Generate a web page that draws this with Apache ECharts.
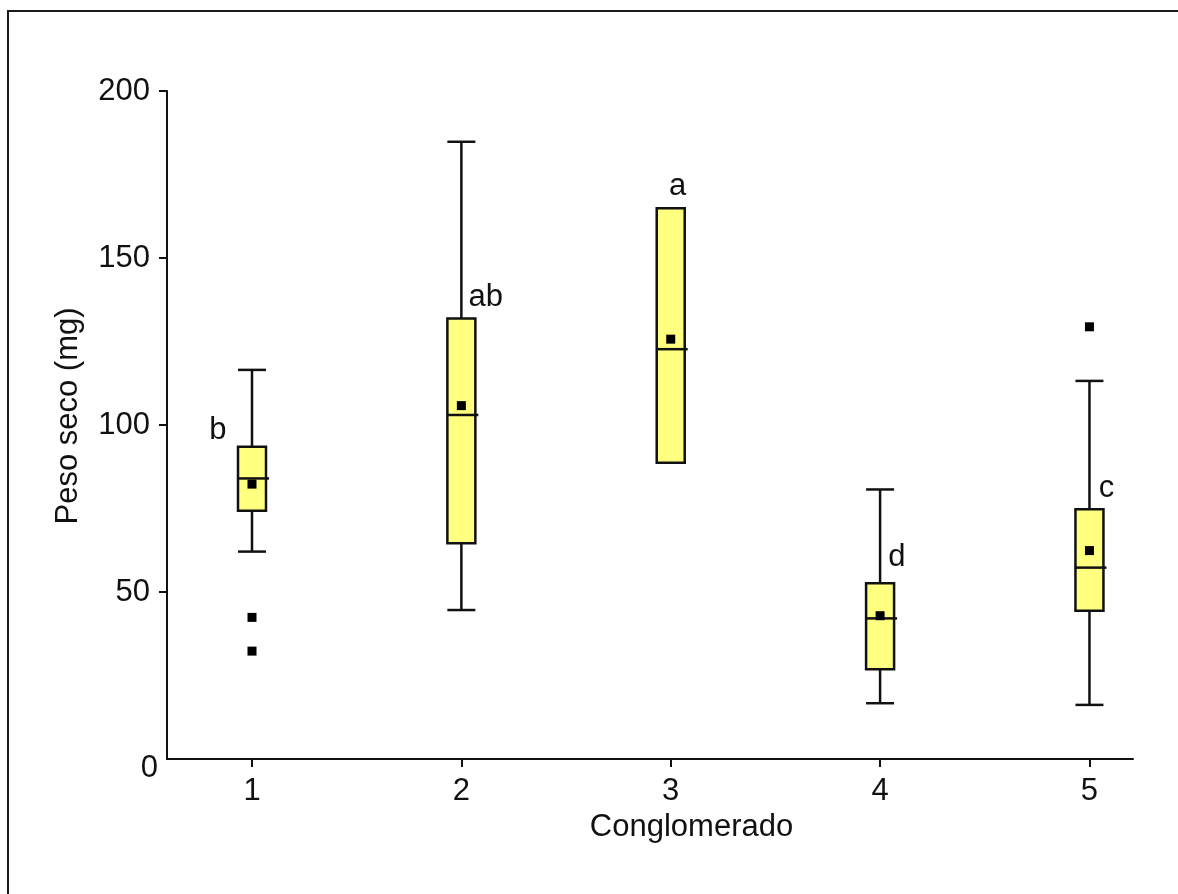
<!DOCTYPE html>
<html>
<head>
<meta charset="utf-8">
<script src="https://cdn.jsdelivr.net/npm/echarts@6/dist/echarts.min.js"></script>
<style>
html,body{margin:0;padding:0;background:#fff;}
#chart{width:1178px;height:894px;}
</style>
</head>
<body>
<div id="chart"></div>
<script>
// ---- data ----
const categories = [1, 2, 3, 4, 5];
const whiskerLow  = [62.1, 44.6, 88.7, 16.7, 16.2];
const q1          = [74.3, 64.6, 88.7, 26.9, 44.4];
const medians     = [84.0, 103.0, 122.7, 42.1, 57.3];
const q3          = [93.5, 131.9, 164.9, 52.6, 74.8];
const whiskerHigh = [116.5, 184.8, 164.9, 80.7, 113.2];
const means       = [82.3, 105.8, 125.7, 42.9, 62.4];
const outlierCat  = [1, 1, 5];
const outlierVal  = [42.4, 32.3, 129.4];
const letters     = ['b', 'ab', 'a', 'd', 'c'];
const letterX     = [0.837, 2.116, 3.033, 4.08, 5.081];
const letterY     = [98.5, 138.3, 171.3, 60.2, 81.1];
const yTicks      = [0, 50, 100, 150, 200];

const FONT = "'Liberation Sans', Arial, sans-serif";
const INK = '#111';
const FS = 31;

const boxData = categories.map((c, i) => [c, whiskerLow[i], q1[i], medians[i], q3[i], whiskerHigh[i]]);
const meanData = categories.map((c, i) => [c, means[i]]);
const outlierData = outlierCat.map((c, i) => [c, outlierVal[i]]);
const letterData = letters.map((t, i) => ({ value: [letterX[i], letterY[i]], label: { formatter: t } }));

const chart = echarts.init(document.getElementById('chart'), null, { renderer: 'canvas' });

function renderBox(params, api) {
  const x = api.value(0);
  const lo = api.coord([x, api.value(1)]);
  const b1 = api.coord([x, api.value(2)]);
  const md = api.coord([x, api.value(3)]);
  const b3 = api.coord([x, api.value(4)]);
  const hi = api.coord([x, api.value(5)]);
  const hw = 14;
  const cx = lo[0];
  const ls = { stroke: INK, lineWidth: 2.5, fill: null };
  return {
    type: 'group',
    children: [
      { type: 'line', shape: { x1: cx, y1: lo[1], x2: cx, y2: b1[1] }, style: ls },
      { type: 'line', shape: { x1: cx, y1: b3[1], x2: cx, y2: hi[1] }, style: ls },
      { type: 'line', shape: { x1: cx - hw, y1: lo[1], x2: cx + hw, y2: lo[1] }, style: ls },
      { type: 'line', shape: { x1: cx - hw, y1: hi[1], x2: cx + hw, y2: hi[1] }, style: ls },
      { type: 'rect', shape: { x: cx - hw, y: b3[1], width: hw * 2, height: b1[1] - b3[1] },
        style: { fill: '#ffff80', stroke: INK, lineWidth: 2.5 } },
      { type: 'line', shape: { x1: cx - hw, y1: md[1], x2: cx + hw + 3, y2: md[1] }, style: ls }
    ]
  };
}

const option = {
  animation: false,
  backgroundColor: '#fff',
  grid: { left: 167, right: 45, top: 91, bottom: 135 },
  xAxis: {
    type: 'value', min: 0.594, max: 5.208,
    name: 'Conglomerado', nameLocation: 'middle', nameGap: 53,
    nameTextStyle: { fontSize: FS, color: INK, fontFamily: FONT, padding: [0, 0, 0, 83] },
    axisLine: { show: true, onZero: false, lineStyle: { color: INK, width: 2 } },
    axisTick: { show: true, customValues: categories, length: 8, lineStyle: { color: INK, width: 2 } },
    axisLabel: { customValues: categories, fontSize: FS, margin: 17, color: INK, fontFamily: FONT },
    splitLine: { show: false }
  },
  yAxis: {
    type: 'value', min: 0, max: 200, interval: 50,
    name: 'Peso seco (mg)', nameLocation: 'middle', nameGap: 83, nameRotate: 90,
    nameTextStyle: { fontSize: FS, color: INK, fontFamily: FONT, padding: [0, 0, 0, 18] },
    axisLine: { show: true, lineStyle: { color: INK, width: 2 } },
    axisTick: { show: true, customValues: yTicks.filter(v => v !== 0), length: 8, lineStyle: { color: INK, width: 2 } },
    axisLabel: { fontSize: FS, margin: 17, color: INK, fontFamily: FONT, padding: [6, 0, 0, 0],
      formatter: v => (v === 0 ? '' : String(v)) },
    splitLine: { show: false }
  },
  series: [
    { type: 'custom', name: 'box', data: boxData, renderItem: renderBox, clip: false,
      encode: { x: 0, y: [1, 2, 3, 4, 5] }, z: 2 },
    { type: 'scatter', name: 'mean', data: meanData, symbol: 'rect', symbolSize: 9,
      itemStyle: { color: '#000', opacity: 1 }, z: 5 },
    { type: 'scatter', name: 'outlier', data: outlierData, symbol: 'rect', symbolSize: 9,
      itemStyle: { color: '#000', opacity: 1 }, z: 5 },
    { type: 'scatter', name: 'letters', data: letterData, symbolSize: 0, z: 6,
      itemStyle: { color: INK, opacity: 1 },
      label: { show: true, position: 'inside', fontSize: FS, color: INK, opacity: 1, fontFamily: FONT } }
  ]
};
chart.setOption(option);

const origin = chart.convertToPixel({ gridIndex: 0 }, [0.594, yTicks[0]]);
chart.setOption({
  graphic: [
    { type: 'rect', shape: { x: 8, y: 11, width: 1185, height: 910 },
      style: { fill: null, stroke: '#1a1a1a', lineWidth: 2 }, silent: true },
    { type: 'text', x: origin[0] - 9, y: origin[1] + 9,
      style: { text: String(yTicks[0]), fontSize: FS, fill: INK, fontFamily: FONT,
        align: 'right', verticalAlign: 'middle' } }
  ]
});
</script>
</body>
</html>
